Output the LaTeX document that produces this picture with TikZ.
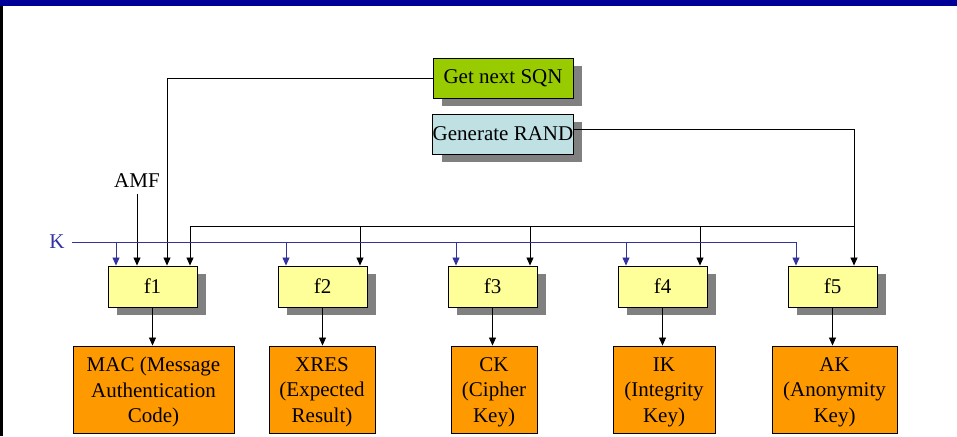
\documentclass[tikz,border=0pt]{standalone}
\usepackage{fontspec}
\setmainfont{Liberation Serif}
\usetikzlibrary{arrows.meta,shadows}
\definecolor{barblue}{HTML}{000099}
\definecolor{sqngreen}{HTML}{99CC00}
\definecolor{randblue}{HTML}{BFE1E4}
\definecolor{fyellow}{HTML}{FFFF99}
\definecolor{outorange}{HTML}{FF9900}
\definecolor{kblue}{HTML}{3333A0}
\definecolor{shade}{HTML}{808080}
\tikzset{
  box/.style={draw=black, line width=0.9pt, inner sep=0pt, align=center,
    font=\fontsize{21}{25.5}\selectfont},
  shadowed/.style={drop shadow={shadow xshift=9pt, shadow yshift=-8pt,
    fill=shade, opacity=1}},
  fbox/.style={box, shadowed, fill=fyellow, minimum width=89pt, minimum height=41pt},
  outbox/.style={box, fill=outorange, minimum height=87pt},
  outtext/.style={font=\fontsize{21}{25.5}\selectfont, align=center, inner sep=0pt},
  wire/.style={line width=0.8pt, -{Triangle[width=7pt,length=8pt]}},
  kwire/.style={wire, draw=kblue, -{Triangle[width=7pt,length=8pt,fill=kblue]}},
  lbl/.style={font=\fontsize{21}{25}\selectfont, inner sep=0pt}
}
\begin{document}
\begin{tikzpicture}[x=1pt,y=-1pt]
\useasboundingbox (0,0) rectangle (957,436);
% header bar and left rule
\fill[barblue] (0,0) rectangle (957,6);
\fill[black] (0,6) rectangle (3,436);

% sources
\node[box, shadowed, fill=sqngreen, minimum width=140pt, minimum height=40pt] (sqn) at (503,78) {Get next SQN};
\node[box, shadowed, fill=randblue, minimum width=140pt, minimum height=40pt] (rand) at (503,134) {Generate RAND};

% functions
\node[fbox] (f1) at (152.5,286.5) {f1};
\node[fbox] (f2) at (322.5,286.5) {f2};
\node[fbox] (f3) at (492.5,286.5) {f3};
\node[fbox] (f4) at (662.5,286.5) {f4};
\node[fbox] (f5) at (832.5,286.5) {f5};

% outputs (boxes, with their text set a little below centre)
\node[outbox, minimum width=161pt] (mac) at (153.5,389.5) {};
\node[outbox, minimum width=106pt] (xres) at (322,389.5) {};
\node[outbox, minimum width=86pt] (ck) at (494,389.5) {};
\node[outbox, minimum width=102pt] (ik) at (664,389.5) {};
\node[outbox, minimum width=125pt] (ak) at (834.5,389.5) {};
\node[outtext] (mact) at ([yshift=-2.5pt]mac.center) {MAC (Message\\Authentication\\Code)};
\node[outtext] (xrest) at ([yshift=-2.5pt]xres.center) {XRES\\(Expected\\Result)};
\node[outtext] (ckt) at ([yshift=-2.5pt]ck.center) {CK\\(Cipher\\Key)};
\node[outtext] (ikt) at ([yshift=-2.5pt]ik.center) {IK\\(Integrity\\Key)};
\node[outtext] (akt) at ([yshift=-2.5pt]ak.center) {AK\\(Anonymity\\Key)};

% labels
\node[lbl] (amf) at (137,181) {AMF};
\node[lbl, text=kblue] (k) at (57,242) {K};

% junction points
\coordinate (randout) at (573,129);
\coordinate (randcorner) at (854,129);
\coordinate (busL) at (190,226);
\coordinate (busR) at (854,226);
\coordinate (kstart) at (72,242);
\coordinate (kend) at (796,242);
\coordinate (amfout) at (137,194);

% SQN into f1
\draw[wire] (sqn.west) -| (f1.north -| 167,0);
% AMF into f1
\draw[wire] (amfout) -- (f1.north -| amfout);
% RAND bus
\draw[line width=0.8pt] (randout) -- (randcorner) -- (busR);
\draw[wire] (busR) -- (f5.north -| busR);
\draw[line width=0.8pt] (busL) -- (busR);
\draw[wire] (busL) -- (f1.north -| busL);
\draw[wire] (360,226) -- (f2.north -| 360,0);
\draw[wire] (530,226) -- (f3.north -| 530,0);
\draw[wire] (700,226) -- (f4.north -| 700,0);
% K bus
\draw[line width=0.8pt, kblue] (kstart) -- (kend);
\draw[kwire] (116,242) -- (f1.north -| 116,0);
\draw[kwire] (286,242) -- (f2.north -| 286,0);
\draw[kwire] (456,242) -- (f3.north -| 456,0);
\draw[kwire] (626,242) -- (f4.north -| 626,0);
\draw[kwire] (kend) -- (f5.north -| kend);

% outputs
\draw[wire] (f1.south) -- (f1.south |- mac.north);
\draw[wire] (f2.south) -- (f2.south |- xres.north);
\draw[wire] (f3.south) -- (f3.south |- ck.north);
\draw[wire] (f4.south) -- (f4.south |- ik.north);
\draw[wire] (f5.south) -- (f5.south |- ak.north);
\end{tikzpicture}
\end{document}
